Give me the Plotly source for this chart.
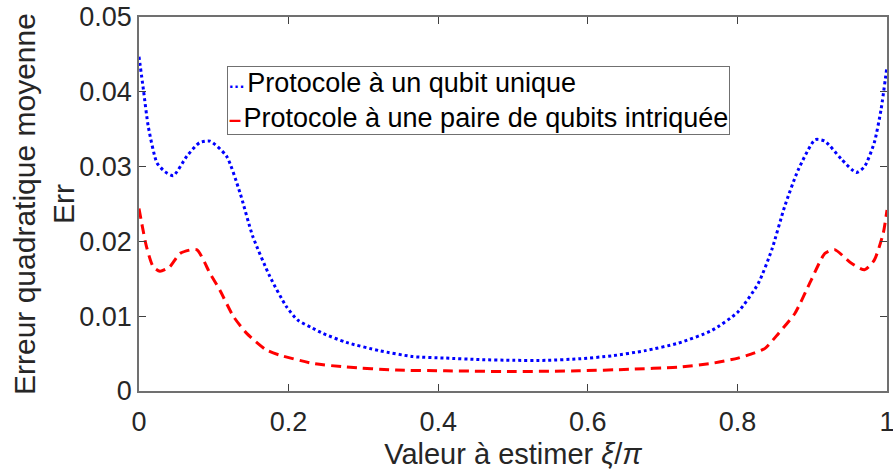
import plotly.graph_objects as go

# Single-qubit protocol (blue dotted)
x_single = [0.000, 0.006, 0.0125, 0.024, 0.035, 0.046, 0.064, 0.081, 0.095, 0.117,
            0.135, 0.152, 0.175, 0.197, 0.212, 0.232, 0.246, 0.277, 0.321, 0.366,
            0.410, 0.455, 0.500, 0.544, 0.588, 0.632, 0.677, 0.721, 0.766, 0.801,
            0.828, 0.846, 0.863, 0.881, 0.904, 0.917, 0.939, 0.959, 0.970, 0.983,
            0.992, 1.000]
err_single = [0.0447, 0.0402, 0.0353, 0.0305, 0.0293, 0.0288, 0.0314, 0.0332, 0.0334, 0.0314,
              0.0265, 0.0207, 0.0153, 0.0113, 0.0095, 0.0084, 0.0077, 0.0065, 0.0054, 0.0046,
              0.0044, 0.0042, 0.0041, 0.0041, 0.0043, 0.0047, 0.0054, 0.0064, 0.0081, 0.0106,
              0.0144, 0.0189, 0.0246, 0.0295, 0.0336, 0.0334, 0.0310, 0.0292, 0.0300, 0.0332,
              0.0376, 0.0434]

# Entangled pair protocol (red dashed)
x_pair = [0.000, 0.010, 0.019, 0.028, 0.041, 0.055, 0.077, 0.095, 0.108, 0.126,
          0.144, 0.170, 0.188, 0.232, 0.277, 0.344, 0.410, 0.500, 0.588, 0.655,
          0.721, 0.766, 0.801, 0.823, 0.837, 0.855, 0.877, 0.899, 0.917, 0.930,
          0.952, 0.970, 0.983, 0.995, 1.000]
err_pair = [0.0244, 0.0193, 0.0166, 0.0160, 0.0166, 0.0184, 0.0189, 0.0157, 0.0135, 0.0100,
            0.0077, 0.0055, 0.0048, 0.0037, 0.0032, 0.0028, 0.0027, 0.0026, 0.0027, 0.0029,
            0.0032, 0.0037, 0.0044, 0.0051, 0.0057, 0.0077, 0.0104, 0.0149, 0.0184, 0.0189,
            0.0171, 0.0162, 0.0175, 0.0211, 0.0242]

series_names = ["Protocole à un qubit unique",
                "Protocole à une paire de qubits intriquée"]
series_colors = ["#0000ff", "#ff0000"]

x_ticks = [0, 0.2, 0.4, 0.6, 0.8, 1]
y_ticks = [0, 0.01, 0.02, 0.03, 0.04, 0.05]

x_title = "Valeur à estimer <i>ξ</i>/<i>π</i>"
y_title = "Erreur quadratique moyenne<br>Err"

FONT = "Liberation Sans, Arial, sans-serif"

fig = go.Figure()
fig.add_trace(go.Scatter(
    x=x_single, y=err_single, mode="lines", name=series_names[0],
    line=dict(color=series_colors[0], width=3, dash="dot", shape="spline", smoothing=0.6),
))
fig.add_trace(go.Scatter(
    x=x_pair, y=err_pair, mode="lines", name=series_names[1],
    line=dict(color=series_colors[1], width=3, dash="10px,6px", shape="spline", smoothing=0.6),
))

axis_common = dict(
    showgrid=False, zeroline=False, showline=True, linecolor="#707070", linewidth=1.5,
    mirror="ticks", ticks="inside", ticklen=7, tickcolor="#404040", tickwidth=1,
    tickfont=dict(family=FONT, size=27, color="#262626"),
    ticklabeloverflow="allow", automargin=False,
)

fig.update_xaxes(
    range=[0, 1], tickvals=x_ticks, ticklabelstandoff=6,
    title=dict(text=x_title,
               font=dict(family=FONT, size=29, color="#262626"), standoff=8),
    **axis_common,
)
fig.update_yaxes(range=[0, 0.05], tickvals=y_ticks, **axis_common)

# Y-axis title (two lines, rotated)
fig.add_annotation(
    xref="paper", yref="paper", x=-0.127, y=0.5, xanchor="center", yanchor="middle",
    text=y_title, textangle=-90, showarrow=False, align="center",
    font=dict(family=FONT, size=30, color="#262626"),
)

# Legend box (MATLAB-style, short line samples)
legend_text = (
    f"<span style='font-size:16px;color:{series_colors[0]}'><b>···</b></span>"
    f"<span style='font-size:8px'> </span>{series_names[0]}<br>"
    f"<span style='font-size:22px;color:{series_colors[1]}'><b>–</b></span>"
    f"<span style='font-size:8px'> </span>{series_names[1]}"
)
fig.add_annotation(
    xref="paper", yref="paper", x=0.1177, y=0.87, xanchor="left", yanchor="top",
    text=legend_text, showarrow=False, align="left",
    font=dict(family=FONT, size=27, color="#000000"),
    bgcolor="white", bordercolor="#707070", borderwidth=1, borderpad=1,
)

fig.update_layout(
    width=893, height=470,
    margin=dict(l=139, r=6, t=17, b=79, autoexpand=False),
    plot_bgcolor="white", paper_bgcolor="white",
    showlegend=False,
)

fig.write_html("out.html", config={"displayModeBar": False},
               post_script="document.body.style.margin='0';")
